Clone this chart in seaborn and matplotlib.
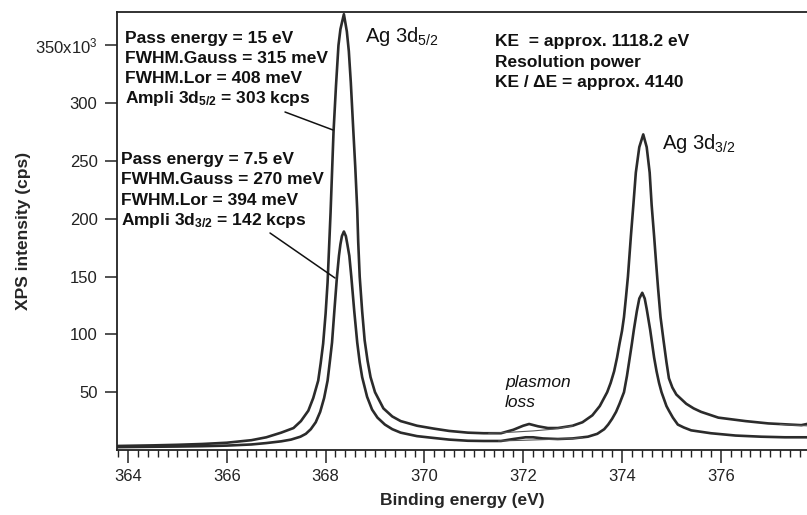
import numpy as np
import pandas as pd
import matplotlib
matplotlib.use("Agg")
import matplotlib.pyplot as plt
from matplotlib.ticker import MultipleLocator, FixedLocator, FuncFormatter
import seaborn as sns

# ---- data (binding energy in eV, intensity in kcps) ----
energy_15 = [363.80, 364.50, 365.00, 365.50, 366.00, 366.50, 366.80, 367.10, 367.35, 367.50,
             367.65, 367.75, 367.85, 367.90, 367.95, 368.00, 368.04, 368.07, 368.10, 368.13,
             368.16, 368.21, 368.26, 368.30, 368.37, 368.43, 368.47, 368.51, 368.56, 368.60,
             368.64, 368.66, 368.69, 368.74, 368.79, 368.85, 368.91, 369.00, 369.17, 369.35,
             369.52, 369.85, 370.19, 370.50, 370.88, 371.20, 371.55, 371.80, 372.00, 372.12,
             372.30, 372.50, 372.70, 373.00, 373.20, 373.40, 373.55, 373.70, 373.77, 373.84,
             373.90, 373.95, 374.00, 374.04, 374.08, 374.12, 374.18, 374.23, 374.28, 374.35,
             374.43, 374.50, 374.56, 374.60, 374.65, 374.69, 374.73, 374.78, 374.84, 374.90,
             374.95, 375.02, 375.10, 375.20, 375.30, 375.45, 375.60, 375.95, 376.50, 376.96,
             377.40, 377.63, 377.80]
intensity_15 = [3.5, 4.0, 4.5, 5.2, 6.3, 8.5, 11, 15, 19, 25,
                34, 45, 60, 75, 92, 118, 145, 175, 205, 240,
                275, 315, 350, 364, 377, 362, 345, 318, 277, 245,
                208, 180, 150, 120, 95, 77, 63, 50, 36, 29,
                25, 21, 18.5, 16.5, 15, 14.5, 14.5, 17.5, 21, 22.5,
                20.5, 19, 19, 21, 24, 30, 38, 50, 58, 68,
                80, 92, 103, 115, 132, 150, 185, 212, 240, 262,
                273, 262, 240, 212, 185, 162, 140, 115, 95, 76,
                62, 54, 48, 44, 40, 36, 33, 28, 25, 23,
                22, 21.5, 23]

energy_7p5 = [363.80, 364.50, 365.00, 365.50, 366.00, 366.50, 366.80, 367.10, 367.30, 367.49,
              367.60, 367.70, 367.80, 367.89, 367.97, 368.04, 368.09, 368.13, 368.18, 368.23,
              368.27, 368.30, 368.33, 368.37, 368.41, 368.44, 368.48, 368.52, 368.58, 368.64,
              368.69, 368.74, 368.84, 368.94, 369.05, 369.20, 369.35, 369.52, 369.85, 370.19,
              370.50, 370.88, 371.20, 371.55, 371.80, 372.05, 372.20, 372.40, 372.70, 373.00,
              373.31, 373.50, 373.64, 373.72, 373.80, 373.88, 373.95, 374.04, 374.10, 374.15,
              374.20, 374.24, 374.30, 374.35, 374.41, 374.46, 374.50, 374.57, 374.61, 374.65,
              374.70, 374.75, 374.80, 374.85, 374.90, 374.95, 375.03, 375.13, 375.25, 375.40,
              375.80, 376.30, 376.82, 377.30, 377.80]
intensity_7p5 = [2.5, 2.8, 3.0, 3.3, 3.8, 4.8, 6, 7.5, 9, 11.5,
                 14, 18, 24, 33, 45, 60, 78, 93, 122, 150,
                 168, 178, 185, 189, 185, 178, 168, 150, 120, 93,
                 76, 63, 46, 35, 28, 22, 18, 15, 12, 10.4,
                 9, 8, 7.8, 7.8, 9.5, 11, 11, 10, 9.5, 10,
                 11.5, 14, 18, 22, 27, 33, 40, 50, 64, 78,
                 92, 104, 120, 131, 136, 131, 122, 104, 92, 80,
                 68, 58, 50, 44, 38, 34, 28, 22, 19.5, 17,
                 14.5, 12.5, 11.5, 11, 11]

# thin fitted background curves (no plasmon)
fit_energy_15 = [371.30, 371.80, 372.20, 372.60, 373.00]
fit_intensity_15 = [14.5, 15.5, 16.5, 18.0, 20.8]
fit_energy_7p5 = [371.50, 372.00, 372.50, 373.00, 373.20]
fit_intensity_7p5 = [7.8, 8.4, 9.1, 9.9, 10.6]
fit_energy_end = [377.20, 377.50, 377.80]
fit_intensity_end = [22.2, 21.4, 20.8]

y_ticks = [50, 100, 150, 200, 250, 300, 350]
x_ticks = [364, 366, 368, 370, 372, 374, 376]

sns.set_style("ticks")
plt.rcParams['font.family'] = ['Liberation Sans', 'DejaVu Sans']
plt.rcParams['mathtext.fontset'] = 'custom'
plt.rcParams['mathtext.rm'] = 'Liberation Sans'
plt.rcParams['mathtext.it'] = 'Liberation Sans:italic'
plt.rcParams['mathtext.bf'] = 'Liberation Sans:bold'

fig = plt.figure(figsize=(8.07, 5.15), dpi=100)
ax = fig.add_axes([117 / 807, 65 / 515, 1 - 117 / 807, 438 / 515])

line_col = "#2b2b2b"
df15 = pd.DataFrame({"energy": energy_15, "intensity": intensity_15})
df75 = pd.DataFrame({"energy": energy_7p5, "intensity": intensity_7p5})
sns.lineplot(data=df15, x="energy", y="intensity", ax=ax, color=line_col, lw=1.9,
             estimator=None, sort=True)
sns.lineplot(data=df75, x="energy", y="intensity", ax=ax, color=line_col, lw=1.9,
             estimator=None, sort=True)
for fx, fy in [(fit_energy_15, fit_intensity_15), (fit_energy_7p5, fit_intensity_7p5),
               (fit_energy_end, fit_intensity_end)]:
    sns.lineplot(x=fx, y=fy, ax=ax, color="#555555", lw=0.8, estimator=None)

ax.set_xlim(363.777, 377.745)
ax.set_ylim(0, 378.9)

ax.xaxis.set_major_locator(FixedLocator(x_ticks))
ax.xaxis.set_minor_locator(MultipleLocator(0.2))
ax.yaxis.set_major_locator(FixedLocator(y_ticks))
ax.yaxis.set_major_formatter(FuncFormatter(
    lambda v, p: "350x10$^{3}$" if abs(v - 350) < 1e-6 else f"{int(v)}"))

ax.tick_params(axis="x", which="major", length=9, width=1.1, direction="out",
               labelsize=12, pad=5, colors="#222222")
ax.tick_params(axis="x", which="minor", length=5, width=1.0, direction="out", colors="#222222")
ax.tick_params(axis="y", which="major", length=9, width=1.1, direction="out",
               labelsize=12, pad=5, colors="#222222")
for s in ["left", "bottom", "top"]:
    ax.spines[s].set_visible(True)
    ax.spines[s].set_linewidth(1.3)
    ax.spines[s].set_color("#222222")
ax.spines["right"].set_visible(False)

ax.set_xlabel("Binding energy (eV)", fontsize=12.5, fontweight="bold", labelpad=6)
ax.set_ylabel("XPS intensity (cps)", fontsize=12.5, fontweight="bold", labelpad=3)

# ---- annotations ----
def px2data(px, py):
    return 364 + (px - 128) / 49.4, (450 - py) / 57.8 * 50

bold = dict(fontsize=12.5, fontweight="bold", color="#111111", va="baseline", ha="left")
block1 = ["Pass energy = 15 eV", "FWHM.Gauss = 315 meV", "FWHM.Lor = 408 meV",
          r"Ampli 3d$\mathbf{_{5/2}}$ = 303 kcps"]
for i, t in enumerate(block1):
    ax.text(*px2data(125, 43 + 20 * i), t, **bold)
block2 = ["Pass energy = 7.5 eV", "FWHM.Gauss = 270 meV", "FWHM.Lor = 394 meV",
          r"Ampli 3d$\mathbf{_{3/2}}$ = 142 kcps"]
for i, t in enumerate(block2):
    ax.text(*px2data(121, 164 + 20.3 * i), t, **bold)
block3 = ["KE  = approx. 1118.2 eV", "Resolution power", "KE / \u0394E = approx. 4140"]
for i, t in enumerate(block3):
    ax.text(*px2data(495, 46 + 20.5 * i), t, **bold)

ax.text(*px2data(365, 42), r"Ag 3d$_{5/2}$", fontsize=14.5, color="#111111",
        va="baseline", ha="left")
ax.text(*px2data(662, 149), r"Ag 3d$_{3/2}$", fontsize=14.5, color="#111111",
        va="baseline", ha="left")
ax.text(*px2data(505, 387), "plasmon", fontsize=12.5, style="italic", color="#111111",
        va="baseline", ha="left")
ax.text(*px2data(505, 407), "loss", fontsize=12.5, style="italic", color="#111111",
        va="baseline", ha="left")

ax.annotate("", xy=px2data(333, 130), xytext=px2data(285, 112),
            arrowprops=dict(arrowstyle="-", color="#111111", lw=1.1,
                            shrinkA=0, shrinkB=0))
ax.annotate("", xy=px2data(335, 278), xytext=px2data(270, 233),
            arrowprops=dict(arrowstyle="-", color="#111111", lw=1.1,
                            shrinkA=0, shrinkB=0))

fig.savefig("out.png", dpi=100)
